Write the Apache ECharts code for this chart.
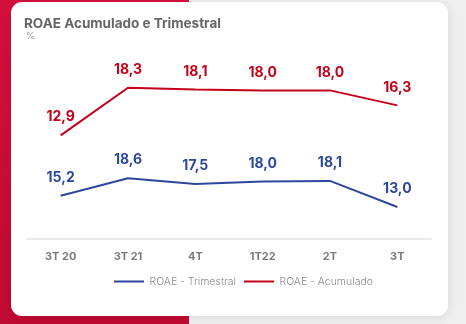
<!DOCTYPE html>
<html>
<head>
<meta charset="utf-8">
<script src="https://cdn.jsdelivr.net/npm/echarts@6/dist/echarts.min.js"></script>
<style>
  html, body { margin: 0; padding: 0; }
  body { width: 466px; height: 324px; background: #efefef; position: relative; overflow: hidden; }
  #band { position: absolute; left: 0; top: 0; width: 189px; height: 324px;
          background: linear-gradient(180deg, #d30f3c 0%, #bf0a31 100%); }
  #card { position: absolute; left: 11px; top: 2px; width: 437px; height: 314px;
          background: #ffffff; border-radius: 11px; box-shadow: 2px 2px 10px rgba(0,0,0,0.08); }
  #chart { position: absolute; left: 0; top: 0; width: 466px; height: 324px; }
</style>
</head>
<body>
<div id="band"></div>
<div id="card"></div>
<div id="chart"></div>
<script>
// Quarters on the x axis
const quarters = ['3T 20', '3T 21', '4T', '1T22', '2T', '3T'];
// ROAE, %
const roaeTrimestral = [15.2, 18.6, 17.5, 18.0, 18.1, 13.0];
const roaeAcumulado = [12.9, 18.3, 18.1, 18.0, 18.0, 16.3];

const RED = '#c4001a';
const BLUE = '#2d479d';
const FONT = 'Inter, "Open Sans", sans-serif';

const fmt = p => p.value.toFixed(1).replace('.', ',');

// Flat line used as the legend marker
const LINE_ICON = 'path://M0,0L30,0L30,2L0,2Z';

const chart = echarts.init(document.getElementById('chart'), null, { renderer: 'canvas' });
chart.setOption({
  backgroundColor: 'transparent',
  animation: false,
  textStyle: { fontFamily: FONT },
  title: [
    { text: 'ROAE Acumulado e Trimestral', left: 24, top: 17, padding: 0,
      textStyle: { fontSize: 13.5, fontWeight: 700, color: '#666666', fontFamily: FONT } },
    { text: '%', left: 26, top: 32, padding: 0,
      textStyle: { fontSize: 9, fontWeight: 400, color: '#999999', fontFamily: FONT } }
  ],
  grid: { left: 27, right: 35, top: 60, bottom: 85 },
  legend: {
    left: 114, top: 276, padding: 0,
    itemWidth: 31, itemHeight: 2, itemGap: 8,
    icon: LINE_ICON,
    textStyle: { fontSize: 10.5, color: '#8a8a8a', fontFamily: FONT, fontWeight: 300 },
    data: ['ROAE - Trimestral', 'ROAE - Acumulado']
  },
  xAxis: {
    type: 'category',
    data: quarters,
    boundaryGap: true,
    axisLine: { lineStyle: { color: '#ebebeb', width: 2 } },
    axisTick: { show: false },
    axisLabel: { margin: 12, fontSize: 11, fontWeight: 700, color: '#7a7a7a', fontFamily: FONT }
  },
  yAxis: [
    { type: 'value', min: 6.76, max: 41.69, show: false, splitLine: { show: false } },
    { type: 'value', min: 1.13, max: 21.45, show: false, splitLine: { show: false } }
  ],
  series: [
    {
      name: 'ROAE - Trimestral', type: 'line', yAxisIndex: 0,
      data: roaeTrimestral, symbol: 'circle', symbolSize: 0.1, color: BLUE,
      lineStyle: { width: 2, color: BLUE },
      label: { show: true, position: 'top', distance: 11, formatter: fmt,
               fontSize: 14, fontWeight: 700, color: BLUE, fontFamily: FONT }
    },
    {
      name: 'ROAE - Acumulado', type: 'line', yAxisIndex: 1,
      data: roaeAcumulado, symbol: 'circle', symbolSize: 0.1, color: RED,
      lineStyle: { width: 2, color: RED },
      label: { show: true, position: 'top', distance: 11, formatter: fmt,
               fontSize: 14, fontWeight: 700, color: RED, fontFamily: FONT }
    }
  ]
});
</script>
</body>
</html>
